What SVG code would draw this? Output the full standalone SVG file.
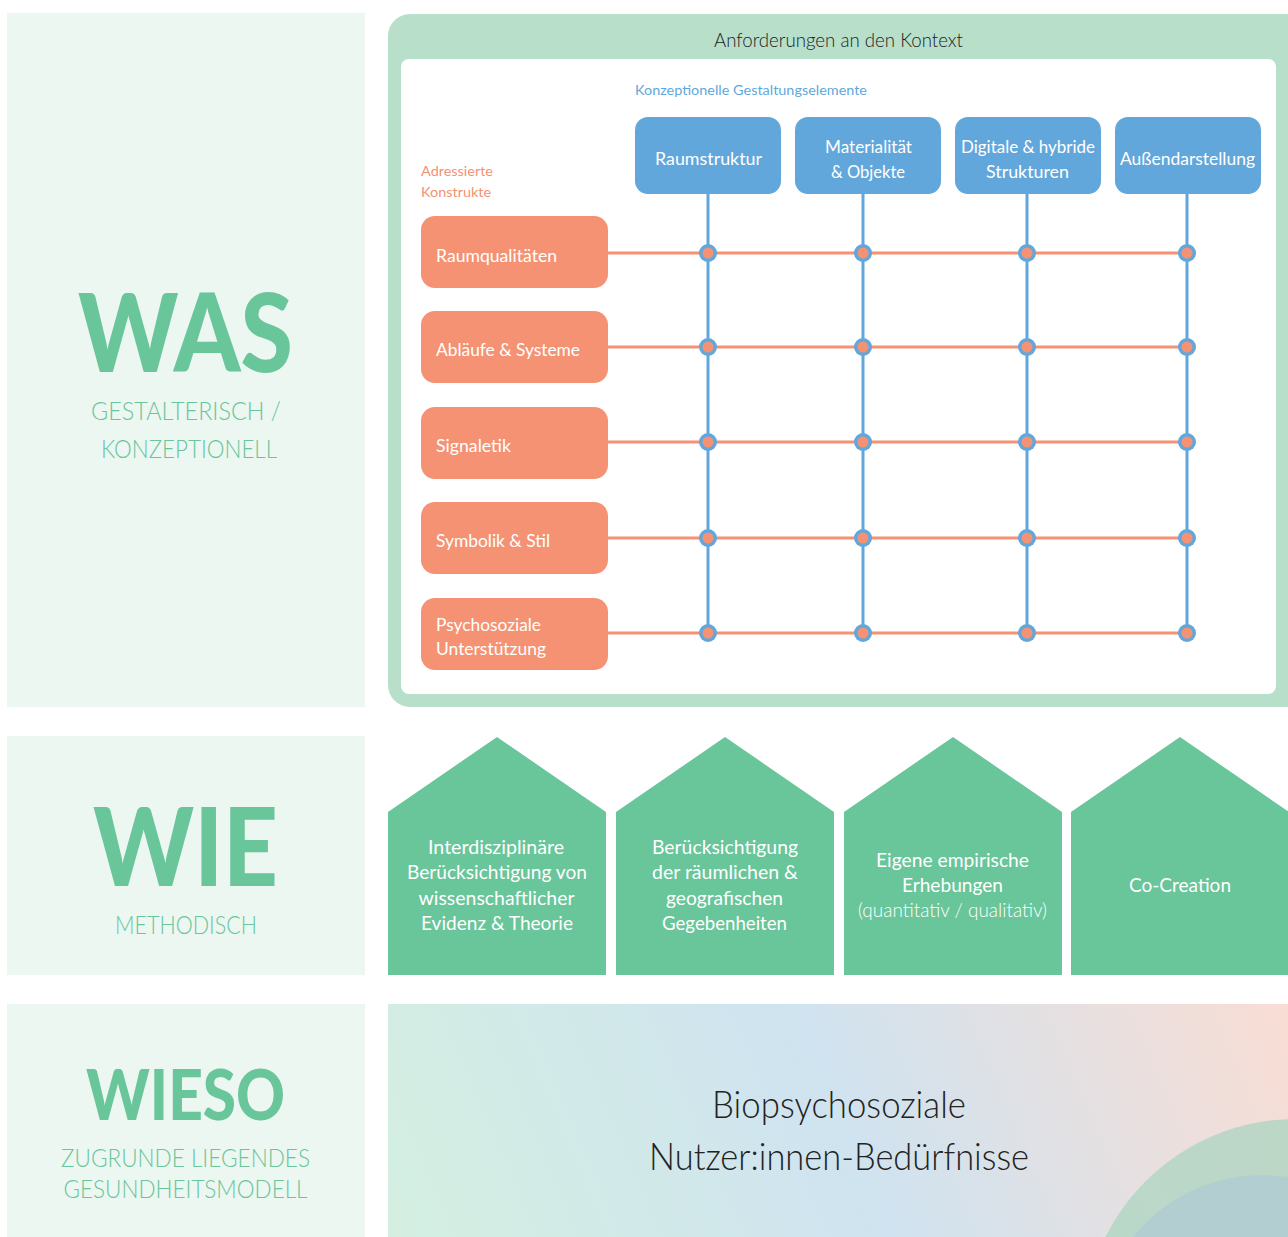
<svg xmlns="http://www.w3.org/2000/svg" width="1288" height="1237" viewBox="0 0 1288 1237">
  <defs>
    <style>
      .panel { fill: #ECF7F1; }
      .big { font-family: Lato, "Liberation Sans", sans-serif; font-weight: 900; fill: #69C59A; text-anchor: middle; }
      .sub { font-family: Lato, "Liberation Sans", sans-serif; font-weight: 300; fill: #69C59A; text-anchor: middle; font-size: 25px; }
      .blue-box { fill: #62A7DB; }
      .orange-box { fill: #F59273; }
      .lbl { font-family: Lato, "Liberation Sans", sans-serif; font-size: 17px; fill: #FFFFFF; }
      .mid { text-anchor: middle; }
      .house { fill: #69C59A; }
      .htxt { font-family: Lato, "Liberation Sans", sans-serif; font-size: 19px; fill: #FFFFFF; text-anchor: middle; }
      .hlight { font-weight: 300; }
      .head { font-family: Lato, "Liberation Sans", sans-serif; font-weight: 300; font-size: 20px; fill: #222222; text-anchor: middle; }
      .cap-blue { font-family: Lato, "Liberation Sans", sans-serif; font-size: 14px; fill: #5FA8DC; }
      .cap-orange { font-family: Lato, "Liberation Sans", sans-serif; font-size: 14px; fill: #F59273; }
      .hline { stroke: #F59273; stroke-width: 3; }
      .vline { stroke: #62A7DB; stroke-width: 3; }
      .dot-ring { fill: #62A7DB; }
      .dot-core { fill: #F59273; }
      .base { font-family: Lato, "Liberation Sans", sans-serif; font-weight: 300; font-size: 38px; fill: #222222; text-anchor: middle; }
    </style>
    <linearGradient id="baseGrad" gradientUnits="userSpaceOnUse" x1="420" y1="1300" x2="1260" y2="940">
      <stop offset="0" stop-color="#D4EFE1"/>
      <stop offset="0.5" stop-color="#CFE3F0"/>
      <stop offset="1" stop-color="#F9DDD4"/>
    </linearGradient>
    <clipPath id="baseClip">
      <rect x="388" y="1004" width="900" height="233"/>
    </clipPath>
  </defs>

  <rect width="1288" height="1237" fill="#FFFFFF"/>

  <!-- left column: WAS / WIE / WIESO -->
  <g id="was">
    <rect class="panel" x="7" y="13" width="358" height="694"/>
    <text class="big" x="185.5" y="372" font-size="108" textLength="215" lengthAdjust="spacingAndGlyphs">WAS</text>
    <text class="sub" x="186" y="420" textLength="190" lengthAdjust="spacingAndGlyphs">GESTALTERISCH /</text>
    <text class="sub" x="189" y="458" textLength="176" lengthAdjust="spacingAndGlyphs">KONZEPTIONELL</text>
  </g>
  <g id="wie">
    <rect class="panel" x="7" y="736" width="358" height="239"/>
    <text class="big" x="185.5" y="886" font-size="108" textLength="185" lengthAdjust="spacingAndGlyphs">WIE</text>
    <text class="sub" x="186" y="934" textLength="142" lengthAdjust="spacingAndGlyphs">METHODISCH</text>
  </g>
  <g id="wieso">
    <rect class="panel" x="7" y="1004" width="358" height="233"/>
    <text class="big" x="185.5" y="1120" font-size="71" textLength="199" lengthAdjust="spacingAndGlyphs">WIESO</text>
    <text class="sub" x="185.5" y="1167" textLength="249" lengthAdjust="spacingAndGlyphs">ZUGRUNDE LIEGENDES</text>
    <text class="sub" x="185.5" y="1198" textLength="244" lengthAdjust="spacingAndGlyphs">GESUNDHEITSMODELL</text>
  </g>

  <!-- context frame -->
  <g id="kontext">
    <rect x="388" y="14" width="920" height="693" rx="22" fill="#B7DFCA"/>
    <rect x="401" y="59" width="875" height="635" rx="8" fill="#FFFFFF"/>
    <text class="head" x="838.5" y="47" textLength="249" lengthAdjust="spacingAndGlyphs">Anforderungen an den Kontext</text>
    <text class="cap-blue" x="635" y="95" textLength="232" lengthAdjust="spacingAndGlyphs">Konzeptionelle Gestaltungselemente</text>
    <text class="cap-orange" x="421" y="176" textLength="72" lengthAdjust="spacingAndGlyphs">Adressierte</text>
    <text class="cap-orange" x="421" y="197" textLength="70" lengthAdjust="spacingAndGlyphs">Konstrukte</text>
  </g>

  <!-- grid connectors -->
  <g id="connectors">
    <line class="vline" x1="708" y1="194" x2="708" y2="633"/>
    <line class="vline" x1="863" y1="194" x2="863" y2="633"/>
    <line class="vline" x1="1027" y1="194" x2="1027" y2="633"/>
    <line class="vline" x1="1187" y1="194" x2="1187" y2="633"/>
    <line class="hline" x1="608" y1="253" x2="1187" y2="253"/>
    <line class="hline" x1="608" y1="347" x2="1187" y2="347"/>
    <line class="hline" x1="608" y1="442" x2="1187" y2="442"/>
    <line class="hline" x1="608" y1="538" x2="1187" y2="538"/>
    <line class="hline" x1="608" y1="633" x2="1187" y2="633"/>
  </g>

  <!-- junction dots -->
  <g id="junctions">
    <g class="dot-ring">
      <circle cx="708" cy="253" r="9"/><circle cx="863" cy="253" r="9"/><circle cx="1027" cy="253" r="9"/><circle cx="1187" cy="253" r="9"/>
      <circle cx="708" cy="347" r="9"/><circle cx="863" cy="347" r="9"/><circle cx="1027" cy="347" r="9"/><circle cx="1187" cy="347" r="9"/>
      <circle cx="708" cy="442" r="9"/><circle cx="863" cy="442" r="9"/><circle cx="1027" cy="442" r="9"/><circle cx="1187" cy="442" r="9"/>
      <circle cx="708" cy="538" r="9"/><circle cx="863" cy="538" r="9"/><circle cx="1027" cy="538" r="9"/><circle cx="1187" cy="538" r="9"/>
      <circle cx="708" cy="633" r="9"/><circle cx="863" cy="633" r="9"/><circle cx="1027" cy="633" r="9"/><circle cx="1187" cy="633" r="9"/>
    </g>
    <g class="dot-core">
      <circle cx="708" cy="253" r="5.5"/><circle cx="863" cy="253" r="5.5"/><circle cx="1027" cy="253" r="5.5"/><circle cx="1187" cy="253" r="5.5"/>
      <circle cx="708" cy="347" r="5.5"/><circle cx="863" cy="347" r="5.5"/><circle cx="1027" cy="347" r="5.5"/><circle cx="1187" cy="347" r="5.5"/>
      <circle cx="708" cy="442" r="5.5"/><circle cx="863" cy="442" r="5.5"/><circle cx="1027" cy="442" r="5.5"/><circle cx="1187" cy="442" r="5.5"/>
      <circle cx="708" cy="538" r="5.5"/><circle cx="863" cy="538" r="5.5"/><circle cx="1027" cy="538" r="5.5"/><circle cx="1187" cy="538" r="5.5"/>
      <circle cx="708" cy="633" r="5.5"/><circle cx="863" cy="633" r="5.5"/><circle cx="1027" cy="633" r="5.5"/><circle cx="1187" cy="633" r="5.5"/>
    </g>
  </g>

  <!-- design elements (columns) -->
  <g id="raumstruktur">
    <rect class="blue-box" x="635" y="117" width="146" height="77" rx="13"/>
    <text class="lbl mid" x="708.5" y="165" textLength="107" lengthAdjust="spacingAndGlyphs">Raumstruktur</text>
  </g>
  <g id="materialitaet">
    <rect class="blue-box" x="795" y="117" width="146" height="77" rx="13"/>
    <text class="lbl mid" x="868.5" y="153" textLength="87" lengthAdjust="spacingAndGlyphs">Materialität</text>
    <text class="lbl mid" x="868" y="178" textLength="74" lengthAdjust="spacingAndGlyphs">&amp; Objekte</text>
  </g>
  <g id="digitale-strukturen">
    <rect class="blue-box" x="955" y="117" width="146" height="77" rx="13"/>
    <text class="lbl mid" x="1028" y="153" textLength="134" lengthAdjust="spacingAndGlyphs">Digitale &amp; hybride</text>
    <text class="lbl mid" x="1027.5" y="178" textLength="83" lengthAdjust="spacingAndGlyphs">Strukturen</text>
  </g>
  <g id="aussendarstellung">
    <rect class="blue-box" x="1115" y="117" width="146" height="77" rx="13"/>
    <text class="lbl mid" x="1187.5" y="165" textLength="135" lengthAdjust="spacingAndGlyphs">Außendarstellung</text>
  </g>

  <!-- addressed constructs (rows) -->
  <g id="raumqualitaeten">
    <rect class="orange-box" x="421" y="216" width="187" height="72" rx="14"/>
    <text class="lbl" x="436" y="262" textLength="121" lengthAdjust="spacingAndGlyphs">Raumqualitäten</text>
  </g>
  <g id="ablaeufe-systeme">
    <rect class="orange-box" x="421" y="311" width="187" height="72" rx="14"/>
    <text class="lbl" x="436" y="356" textLength="144" lengthAdjust="spacingAndGlyphs">Abläufe &amp; Systeme</text>
  </g>
  <g id="signaletik">
    <rect class="orange-box" x="421" y="407" width="187" height="72" rx="14"/>
    <text class="lbl" x="436" y="452" textLength="75" lengthAdjust="spacingAndGlyphs">Signaletik</text>
  </g>
  <g id="symbolik-stil">
    <rect class="orange-box" x="421" y="502" width="187" height="72" rx="14"/>
    <text class="lbl" x="436" y="547" textLength="114" lengthAdjust="spacingAndGlyphs">Symbolik &amp; Stil</text>
  </g>
  <g id="psychosoziale-unterstuetzung">
    <rect class="orange-box" x="421" y="598" width="187" height="72" rx="14"/>
    <text class="lbl" x="436" y="631" textLength="105" lengthAdjust="spacingAndGlyphs">Psychosoziale</text>
    <text class="lbl" x="436" y="655" textLength="110" lengthAdjust="spacingAndGlyphs">Unterstützung</text>
  </g>

  <!-- methods (house shapes) -->
  <g id="evidenz-theorie">
    <polygon class="house" points="388,812 497,737 606,812 606,975 388,975"/>
    <text class="htxt" x="496" y="854" textLength="136" lengthAdjust="spacingAndGlyphs">Interdisziplinäre</text>
    <text class="htxt" x="497" y="879" textLength="180" lengthAdjust="spacingAndGlyphs">Berücksichtigung von</text>
    <text class="htxt" x="496.5" y="905" textLength="156" lengthAdjust="spacingAndGlyphs">wissenschaftlicher</text>
    <text class="htxt" x="497" y="930" textLength="152" lengthAdjust="spacingAndGlyphs">Evidenz &amp; Theorie</text>
  </g>
  <g id="raeumliche-gegebenheiten">
    <polygon class="house" points="616,812 725,737 834,812 834,975 616,975"/>
    <text class="htxt" x="725" y="854" textLength="146" lengthAdjust="spacingAndGlyphs">Berücksichtigung</text>
    <text class="htxt" x="725" y="879" textLength="146" lengthAdjust="spacingAndGlyphs">der räumlichen &amp;</text>
    <text class="htxt" x="724.5" y="905" textLength="117" lengthAdjust="spacingAndGlyphs">geografischen</text>
    <text class="htxt" x="724.5" y="930" textLength="125" lengthAdjust="spacingAndGlyphs">Gegebenheiten</text>
  </g>
  <g id="empirische-erhebungen">
    <polygon class="house" points="844,812 953,737 1062,812 1062,975 844,975"/>
    <text class="htxt" x="952.5" y="867" textLength="153" lengthAdjust="spacingAndGlyphs">Eigene empirische</text>
    <text class="htxt" x="952.5" y="892" textLength="101" lengthAdjust="spacingAndGlyphs">Erhebungen</text>
    <text class="htxt hlight" x="952.5" y="917" textLength="189" lengthAdjust="spacingAndGlyphs">(quantitativ / qualitativ)</text>
  </g>
  <g id="co-creation">
    <polygon class="house" points="1071,812 1180,737 1289,812 1289,975 1071,975"/>
    <text class="htxt" x="1180" y="892" textLength="102" lengthAdjust="spacingAndGlyphs">Co-Creation</text>
  </g>

  <!-- underlying model -->
  <g id="beduerfnisse">
    <rect x="388" y="1004" width="900" height="233" fill="url(#baseGrad)"/>
    <g clip-path="url(#baseClip)">
      <circle cx="1296" cy="1332" r="213" fill="#B3D6C3" opacity="0.85"/>
      <circle cx="1262" cy="1340" r="165" fill="#ADC8D6" opacity="0.6"/>
    </g>
    <text class="base" x="839" y="1118" textLength="254" lengthAdjust="spacingAndGlyphs">Biopsychosoziale</text>
    <text class="base" x="839" y="1170" textLength="380" lengthAdjust="spacingAndGlyphs">Nutzer:innen-Bedürfnisse</text>
  </g>
</svg>
